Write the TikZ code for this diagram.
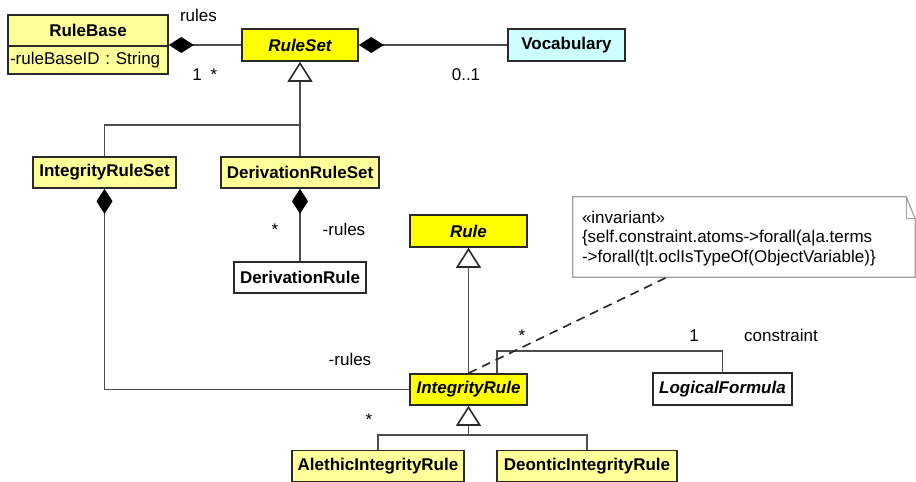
\documentclass[tikz,border=0pt]{standalone}
\usepackage{fontspec}
\setmainfont{Liberation Sans}
\usetikzlibrary{arrows.meta}
\definecolor{absy}{HTML}{FFFF00}
\definecolor{concy}{HTML}{FFFF99}
\definecolor{vocab}{HTML}{CCFFFF}
\definecolor{bord}{HTML}{2A2A2A}
\definecolor{connc}{HTML}{4D4D4D}
\definecolor{notec}{HTML}{A0A0A0}
\newcommand\fsz{\fontsize{17}{19.5}\selectfont}
\begin{document}
\begin{tikzpicture}[x=1pt,y=-1pt,
  cls/.style={draw=bord, line width=1.6pt, inner sep=0pt, minimum height=31pt, font=\fsz\bfseries},
  abscls/.style={cls, fill=absy, font=\fsz\bfseries\itshape},
  concls/.style={cls, fill=concy},
  whitecls/.style={cls, fill=white},
  lbl/.style={font=\fsz, inner sep=0pt, anchor=base},
  conn/.style={draw=connc, line width=1.5pt},
  comp/.style={conn, {Diamond[length=25pt,width=16pt,color=black]}-},
  gen/.style={conn, -{Triangle[length=20pt,width=25pt,color=bord,fill=white,line width=1.6pt]}},
  dep/.style={draw=black!85, line width=1.6pt, dash pattern=on 9pt off 6pt},
]
\useasboundingbox (0,0) rectangle (916,482);
\fill[white] (0,0) rectangle (916,482);

% classes
\node[concls, minimum width=160pt, minimum height=31pt] (rbh) at (88,30.5) {RuleBase};
\node[concls, minimum width=160pt, minimum height=28pt, text width=156pt, align=left, font=\fsz] (rba) at (88,60) {-ruleBaseID : String};
\node[abscls, minimum width=116pt, minimum height=32pt] (rs) at (300,45) {RuleSet};
\node[cls, fill=vocab, minimum width=117pt, minimum height=32pt] (voc) at (566.5,45) {Vocabulary};
\node[concls, minimum width=143pt] (irs) at (104.5,172.5) {IntegrityRuleSet};
\node[concls, minimum width=158pt] (drs) at (300,172.5) {DerivationRuleSet};
\node[whitecls, minimum width=132pt] (dru) at (300,277.5) {DerivationRule};
\node[abscls, minimum width=117pt, minimum height=32pt] (rule) at (468.5,231) {Rule};
\node[abscls, minimum width=117pt] (ir) at (468.5,389.5) {IntegrityRule};
\node[whitecls, minimum width=139pt, minimum height=32pt, font=\fsz\bfseries\itshape] (lf) at (722.5,389) {LogicalFormula};
\node[concls, minimum width=172pt, minimum height=31pt] (ar) at (378,466) {AlethicIntegrityRule};
\node[concls, minimum width=180pt, minimum height=31pt] (dr) at (587,466) {DeonticIntegrityRule};

% note
\node[inner sep=0pt, minimum width=342pt, minimum height=80pt, text width=324pt, align=left, font=\fsz] (nt) at (744,238.5)
  {«invariant»\\\{self.constraint.atoms->forall(a|a.terms\\->forall(t|t.oclIsTypeOf(ObjectVariable)\}};
\draw[notec, line width=1.2pt] ([yshift=1.5pt]nt.north west) -- ([xshift=-9pt,yshift=1.5pt]nt.north east) -- ([yshift=-20.5pt]nt.north east)
  -- ([yshift=1.5pt]nt.south east) -- ([yshift=1.5pt]nt.south west) -- cycle;
\draw[notec, line width=1.2pt] ([xshift=-9pt,yshift=1.5pt]nt.north east) |- ([yshift=-20.5pt]nt.north east);

% connectors
\draw[comp] (rs.west -| rbh.east) -- (rs.west);
\draw[comp] (rs.east) -- (voc.west);
\coordinate (j1) at (300,125);
\draw[gen] (drs.north) -- (rs.south);
\draw[conn] (irs.north) |- (j1);
\draw[comp] (irs.south) |- (ir.west);
\draw[comp] (drs.south) -- (dru.north);
\draw[gen] (ir.north) -- (rule.south);
\coordinate (j2) at (468.5,435);
\draw[gen] (ar.north) |- (j2) -- (ir.south);
\draw[conn] (dr.north) |- (j2);
\coordinate (c1) at (497,351);
\coordinate (c2) at (722.5,351);
\draw[conn] (ir.north -| c1) -- (c1) -- (c2) -- (lf.north);
\draw[dep] (ir.north) -- ([xshift=-77pt,yshift=1.5pt]nt.south);

% labels
\node[lbl] (l1) at (198.5,21) {rules};
\node[lbl] (l2) at (197,80) {1};
\node[lbl] (l3) at (214,80) {*};
\node[lbl] (l4) at (466,80) {0..1};
\node[lbl] (l5) at (275,235) {*};
\node[lbl] (l6) at (344,235) {-rules};
\node[lbl] (l7) at (350,365) {-rules};
\node[lbl] (l8) at (369,425) {*};
\node[lbl] (l9) at (522,341) {*};
\node[lbl] (l10) at (694,341) {1};
\node[lbl] (l11) at (781,341) {constraint};
\end{tikzpicture}
\end{document}
